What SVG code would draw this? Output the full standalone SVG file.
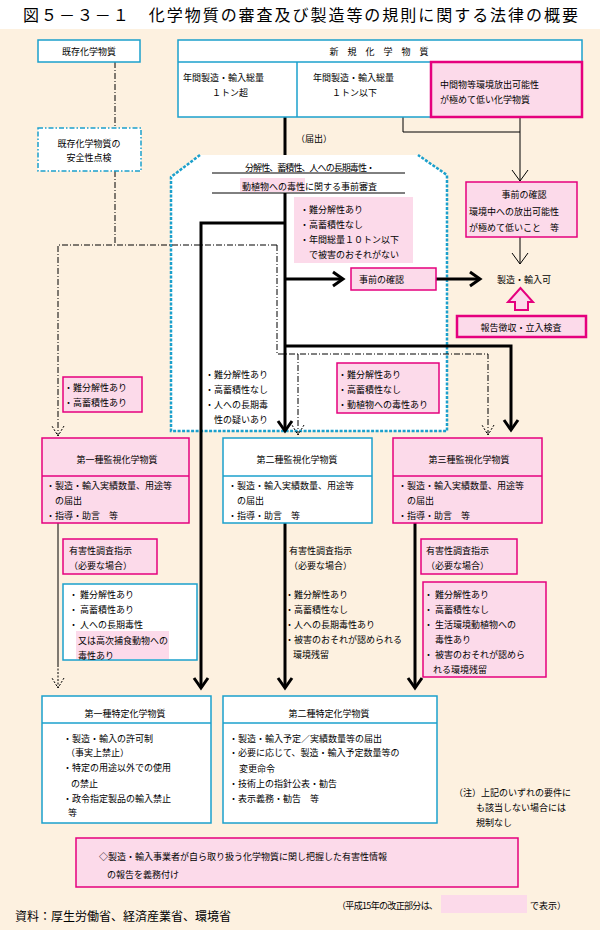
<svg xmlns="http://www.w3.org/2000/svg" width="600" height="930" viewBox="0 0 600 930">
<style>
.t{font-family:"Noto Sans CJK JP","Noto Sans CJK SC",sans-serif;font-size:9px;fill:#000;dominant-baseline:central}
.m{text-anchor:middle}
.pk{fill:#FCDAEA;stroke:#E5007E;stroke-width:1.5}
.pkb{fill:#FCDAEA;stroke:#E5007E;stroke-width:2.5}
.cy{fill:#fff;stroke:#1BA0CC;stroke-width:1.5}
.hl{fill:#FCDAEA}
.thick{fill:none;stroke:#000;stroke-width:3}
.thin{fill:none;stroke:#000;stroke-width:1}
.dd{fill:none;stroke:#000;stroke-width:1;stroke-dasharray:6 2 1 2}
.ln{stroke:#000;stroke-width:1}
</style>
<defs>
<marker id="ah" markerUnits="userSpaceOnUse" viewBox="-12 -9 16 18" markerWidth="16" markerHeight="18" refX="0" refY="0" orient="auto" overflow="visible"><path d="M-10,-7 L0,0 L-10,7" fill="none" stroke="#000" stroke-width="3"/></marker>
<marker id="at" markerUnits="userSpaceOnUse" viewBox="-12 -9 14 18" markerWidth="14" markerHeight="18" refX="0" refY="0" orient="auto" overflow="visible"><path d="M-11,-8 L0,0 L-11,8" fill="none" stroke="#000" stroke-width="1"/></marker>
<marker id="ad" markerUnits="userSpaceOnUse" viewBox="-12 -9 14 18" markerWidth="14" markerHeight="18" refX="0" refY="0" orient="auto" overflow="visible"><path d="M-10,-6 L0,0 L-10,6" fill="none" stroke="#000" stroke-width="1" stroke-dasharray="2 1.5"/></marker>
</defs>
<rect x="0" y="0" width="600" height="930" fill="#fff"/>
<rect x="0" y="29" width="600" height="901" fill="#FDF1E0"/>
<text class="t" x="23" y="14" style="font-size:16px" textLength="555">図５－３－１　化学物質の審査及び製造等の規則に関する法律の概要</text>

<g id="shinsa-area">
<polygon points="171,177 200,155 418,155 447,175 447,431 171,431" fill="#fff"/>
<path d="M200,155 L171,177 V431 H447 V175 L418,155" fill="none" stroke="#1BA0CC" stroke-width="2.5" stroke-dasharray="3 1.5"/>
<rect class="hl" x="240" y="178" width="65" height="14"/>
<text class="t" x="245" y="167" textLength="130">分解性、蓄積性、人への長期毒性・</text>
<line class="ln" x1="212" y1="173" x2="405" y2="173"/>
<text class="t" x="242" y="186">動植物への毒性に関する事前審査</text>
<line class="ln" x1="212" y1="193" x2="405" y2="193"/>
</g>

<g id="connectors">
<path class="dd" d="M115,62 V128"/>
<path class="dd" d="M115,171 V245"/>
<path class="dd" d="M277,245 H58 V436" marker-end="url(#ad)"/>
<path class="dd" d="M277,245 V354 H488 V435" marker-end="url(#ad)"/>
<path class="dd" d="M298,354 V435" marker-end="url(#ad)"/>
<path class="thick" d="M285,117 V155"/>
<path class="thick" d="M285,193 V431" marker-end="url(#ah)"/>
<path class="thick" d="M285,223 H201 V688" marker-end="url(#ah)"/>
<path class="thick" d="M285,279 H343" marker-end="url(#ah)"/>
<path class="thick" d="M436,279 H480" marker-end="url(#ah)"/>
<path class="thick" d="M285,346 H511 V430" marker-end="url(#ah)"/>
<path class="thick" d="M285,523 V688" marker-end="url(#ah)"/>
<path class="thick" d="M415,523 V688" marker-end="url(#ah)"/>
<path class="thin" d="M403,117 V132 H520"/>
<path class="thin" d="M520,117 V181" marker-end="url(#at)"/>
<path class="thin" d="M520,237 V264" marker-end="url(#at)"/>
<path class="thin" d="M58,523 V665"/>
<path class="thin" d="M58,665 V688" stroke-dasharray="2 1.5" marker-end="url(#ad)"/>
<polygon points="520.5,288 508,302 515,302 515,310 528,310 528,302 533,302" fill="#FCDAEA" stroke="#E5007E" stroke-width="2"/>
</g>

<g id="kizon">
<rect class="cy" x="38" y="40" width="102" height="22"/>
<text class="t m" x="89" y="51">既存化学物質</text>
</g>

<g id="shinki">
<rect class="cy" x="178" y="40" width="404" height="77"/>
<line x1="178" y1="62" x2="582" y2="62" stroke="#1BA0CC" stroke-width="1.5"/>
<line x1="297" y1="62" x2="297" y2="117" stroke="#1BA0CC" stroke-width="1.5"/>
<text class="t m" x="379" y="51">新　規　化　学　物　質</text>
<text class="t" x="183" y="77">年間製造・輸入総量</text>
<text class="t" x="212" y="92">１トン超</text>
<text class="t" x="313" y="77">年間製造・輸入総量</text>
<text class="t" x="332" y="92">１トン以下</text>
</g>

<g id="chukanbutsu">
<rect class="pkb" x="431" y="62" width="151" height="55"/>
<text class="t" x="440" y="84">中間物等環境放出可能性</text>
<text class="t" x="440" y="99">が極めて低い化学物質</text>
</g>

<g id="anzensei">
<rect x="38" y="128" width="103" height="43" fill="#fff" stroke="#1BA0CC" stroke-width="1.5" stroke-dasharray="5 2 1.5 2"/>
<text class="t m" x="89" y="143">既存化学物質の</text>
<text class="t m" x="89" y="157">安全性点検</text>
</g>

<text class="t" x="296" y="138">（届出）</text>

<g id="jizen-kakunin-2">
<rect class="pk" x="466" y="182" width="111" height="55"/>
<text class="t m" x="524" y="194">事前の確認</text>
<text class="t" x="469" y="211">環境中への放出可能性</text>
<text class="t" x="469" y="227">が極めて低いこと　等</text>
</g>

<g id="shinsa-list">
<rect class="hl" x="294" y="197" width="119" height="66"/>
<text class="t" x="300" y="209">・難分解性あり</text>
<text class="t" x="300" y="224">・高蓄積性なし</text>
<text class="t" x="300" y="239">・年間総量１０トン以下</text>
<text class="t" x="309" y="254">で被害のおそれがない</text>
</g>

<g id="jizen-kakunin-1">
<rect class="pk" x="351" y="268" width="85" height="22"/>
<text class="t" x="359" y="279">事前の確認</text>
</g>

<text class="t" x="497" y="279">製造・輸入可</text>

<g id="hokoku">
<rect class="pkb" x="457" y="316" width="129" height="21"/>
<text class="t m" x="521" y="327">報告徴収・立入検査</text>
</g>

<g id="cond-1">
<rect class="pk" x="63" y="377" width="79" height="35"/>
<text class="t" x="64" y="387">・難分解性あり</text>
<text class="t" x="64" y="402">・高蓄積性あり</text>
</g>

<g id="cond-2">
<text class="t" x="205" y="374">・難分解性あり</text>
<text class="t" x="205" y="389">・高蓄積性なし</text>
<text class="t" x="205" y="404">・人への長期毒</text>
<text class="t" x="214" y="419">性の疑いあり</text>
</g>

<g id="cond-3">
<rect class="pk" x="337" y="363" width="102" height="50"/>
<text class="t" x="338" y="374">・難分解性あり</text>
<text class="t" x="338" y="389">・高蓄積性なし</text>
<text class="t" x="338" y="404">・動植物への毒性あり</text>
</g>

<g id="kanshi-1">
<rect class="pk" x="42" y="438" width="147" height="85"/>
<line x1="42" y1="476" x2="189" y2="476" stroke="#E5007E" stroke-width="1.5"/>
<text class="t m" x="117" y="459">第一種監視化学物質</text>
<text class="t" x="46" y="485">・製造・輸入実績数量、用途等</text>
<text class="t" x="55" y="500">の届出</text>
<text class="t" x="46" y="515">・指導・助言　等</text>
</g>

<g id="kanshi-2">
<rect class="cy" x="223" y="438" width="149" height="85"/>
<line x1="223" y1="476" x2="372" y2="476" stroke="#1BA0CC" stroke-width="1.5"/>
<text class="t m" x="297" y="459">第二種監視化学物質</text>
<text class="t" x="228" y="485">・製造・輸入実績数量、用途等</text>
<text class="t" x="237" y="500">の届出</text>
<text class="t" x="228" y="515">・指導・助言　等</text>
</g>

<g id="kanshi-3">
<rect class="pk" x="393" y="438" width="149" height="85"/>
<line x1="393" y1="476" x2="542" y2="476" stroke="#E5007E" stroke-width="1.5"/>
<text class="t m" x="469" y="459">第三種監視化学物質</text>
<text class="t" x="398" y="485">・製造・輸入実績数量、用途等</text>
<text class="t" x="407" y="500">の届出</text>
<text class="t" x="398" y="515">・指導・助言　等</text>
</g>

<g id="chosa-1">
<rect class="pk" x="63" y="539" width="94" height="35"/>
<text class="t" x="69" y="550">有害性調査指示</text>
<text class="t" x="69" y="565">（必要な場合）</text>
</g>
<g id="chosa-2">
<text class="t" x="289" y="550">有害性調査指示</text>
<text class="t" x="289" y="565">（必要な場合）</text>
</g>
<g id="chosa-3">
<rect class="pk" x="421" y="539" width="96" height="35"/>
<text class="t" x="426" y="550">有害性調査指示</text>
<text class="t" x="426" y="565">（必要な場合）</text>
</g>

<g id="yoken-1">
<rect class="cy" x="63" y="584" width="134" height="76"/>
<rect class="hl" x="76" y="631" width="93" height="28"/>
<text class="t" x="69" y="594">・ 難分解性あり</text>
<text class="t" x="69" y="609">・ 高蓄積性あり</text>
<text class="t" x="69" y="624">・ 人への長期毒性</text>
<text class="t" x="78" y="640">又は高次捕食動物への</text>
<text class="t" x="78" y="655">毒性あり</text>
</g>

<g id="yoken-2">
<text class="t" x="285" y="594">・難分解性あり</text>
<text class="t" x="285" y="609">・高蓄積性なし</text>
<text class="t" x="285" y="624">・人への長期毒性あり</text>
<text class="t" x="285" y="639">・被害のおそれが認められる</text>
<text class="t" x="293" y="654">環境残留</text>
</g>

<g id="yoken-3">
<rect class="pk" x="423" y="582" width="123" height="95"/>
<text class="t" x="424" y="594">・ 難分解性あり</text>
<text class="t" x="424" y="609">・ 高蓄積性なし</text>
<text class="t" x="424" y="624">・ 生活環境動植物への</text>
<text class="t" x="435" y="639">毒性あり</text>
<text class="t" x="424" y="654">・ 被害のおそれが認めら</text>
<text class="t" x="433" y="669">れる環境残留</text>
</g>

<g id="tokutei-1">
<rect class="cy" x="42" y="696" width="169" height="127"/>
<line x1="42" y1="723" x2="211" y2="723" stroke="#1BA0CC" stroke-width="1.5"/>
<text class="t m" x="125" y="713">第一種特定化学物質</text>
<text class="t" x="63" y="738">・製造・輸入の許可制</text>
<text class="t" x="66" y="752">（事実上禁止）</text>
<text class="t" x="63" y="767">・特定の用途以外での使用</text>
<text class="t" x="71" y="783">の禁止</text>
<text class="t" x="63" y="798">・政令指定製品の輸入禁止</text>
<text class="t" x="68" y="812">等</text>
</g>

<g id="tokutei-2">
<rect class="cy" x="223" y="696" width="214" height="127"/>
<line x1="223" y1="723" x2="437" y2="723" stroke="#1BA0CC" stroke-width="1.5"/>
<text class="t m" x="329" y="713">第二種特定化学物質</text>
<text class="t" x="229" y="738">・製造・輸入予定／実績数量等の届出</text>
<text class="t" x="229" y="752">・必要に応じて、製造・輸入予定数量等の</text>
<text class="t" x="239" y="768">変更命令</text>
<text class="t" x="229" y="783">・技術上の指針公表・勧告</text>
<text class="t" x="229" y="798">・表示義務・勧告　等</text>
</g>

<g id="note">
<text class="t" x="454" y="792">（注）上記のいずれの要件に</text>
<text class="t" x="476" y="807">も該当しない場合には</text>
<text class="t" x="476" y="822">規制なし</text>
</g>

<g id="hokoku-gimu">
<rect class="pk" x="76" y="838" width="442" height="49"/>
<text class="t" x="99" y="856">◇製造・輸入事業者が自ら取り扱う化学物質に関し把握した有害性情報</text>
<text class="t" x="107" y="874">の報告を義務付け</text>
</g>

<g id="legend">
<text class="t" x="337" y="905" textLength="101">（平成15年の改正部分は、</text>
<rect class="hl" x="441" y="895" width="86" height="18"/>
<text class="t" x="530" y="905">で表示）</text>
</g>
<text class="t" x="15" y="915" style="font-size:12px">資料：厚生労働省、経済産業省、環境省</text>
</svg>
